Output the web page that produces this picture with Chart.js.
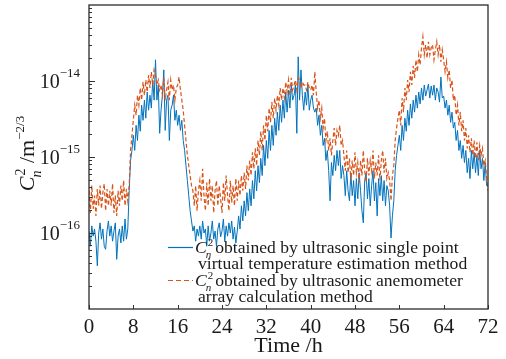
<!DOCTYPE html>
<html lang="en">
<head>
<meta charset="UTF-8">
<title>Cn2 comparison</title>
<script src="https://cdn.jsdelivr.net/npm/chart.js"></script>
<style>
  html, body { margin: 0; padding: 0; background: #ffffff; }
  #wrap { width: 506px; height: 359px; }
</style>
</head>
<body>
<div id="wrap"><canvas id="cn2Chart" width="506" height="359"></canvas></div>
<script>
// sample spacing of both series, hours
const STEP_H = 0.25;
const xTicks = [0, 8, 16, 24, 32, 40, 48, 56, 64, 72];
const yTicks = [1e-16, 1e-15, 1e-14];
const yTickExps = ['\u221216', '\u221215', '\u221214'];

// Cn2 from ultrasonic single point virtual temperature estimation (one row = 1 h)
const singlePoint = [
  1.06e-16, 6.7e-17, 1.24e-16, 9.1e-17,
  1.13e-16, 7.8e-17, 3.7e-17, 1.0e-16,
  1.36e-16, 8.3e-17, 1.13e-16, 6.7e-17,
  6.1e-17, 1.06e-16, 1.44e-16, 9.1e-17,
  1.24e-16, 7.8e-17, 1.06e-16, 1.36e-16,
  4.5e-17, 9.1e-17, 1.13e-16, 7.4e-17,
  1.24e-16, 7.8e-17, 1.53e-16, 8.3e-17,
  1.13e-16, 3.6e-16, 9.0e-16, 1.22e-15,
  1.93e-15, 1.22e-15, 2.61e-15, 1.65e-15,
  3.55e-15, 2.18e-15, 4.81e-15, 3.04e-15,
  5.6e-15, 3.24e-15, 7.15e-15, 4.13e-15,
  6.5e-15, 4.4e-15, 1.03e-14, 5.6e-15,
  1.9e-14, 5.6e-15, 8.85e-15, 2.05e-15,
  4.13e-15, 6.5e-15, 1.4e-14, 2.24e-15,
  5.6e-15, 6.5e-15, 1.65e-15, 4.13e-15,
  4.81e-15, 6.5e-15, 3.04e-15, 4.13e-15,
  2.61e-15, 3.55e-15, 2.24e-15, 3.04e-15,
  1.65e-15, 1.22e-15, 7.7e-16, 4.9e-16,
  3.1e-16, 1.96e-16, 1.44e-16, 1.06e-16,
  1.24e-16, 7.8e-17, 1.13e-16, 9.1e-17,
  1.24e-16, 8.3e-17, 1.44e-16, 1.0e-16,
  1.13e-16, 6.7e-17, 1.24e-16, 7.8e-17,
  1.0e-16, 1.44e-16, 8.3e-17, 1.06e-16,
  6.7e-17, 1.13e-16, 1.36e-16, 8.9e-17,
  1.06e-16, 1.53e-16, 7.8e-17, 1.24e-16,
  9.1e-17, 1.36e-16, 1.0e-16, 1.44e-16,
  8.3e-17, 1.2e-16, 7.4e-17, 1.06e-16,
  1.68e-16, 1.13e-16, 2.28e-16, 1.44e-16,
  2.65e-16, 1.68e-16, 3.4e-16, 1.96e-16,
  3.8e-16, 2.28e-16, 4.9e-16, 2.82e-16,
  6.6e-16, 3.6e-16, 7.7e-16, 4.6e-16,
  9.6e-16, 5.7e-16, 1.42e-15, 7.7e-16,
  1.65e-15, 9.6e-16, 2.24e-15, 1.22e-15,
  2.61e-15, 1.42e-15, 3.24e-15, 1.93e-15,
  3.89e-15, 2.24e-15, 4.81e-15, 2.86e-15,
  5.6e-15, 3.24e-15, 7.15e-15, 3.89e-15,
  7.6e-15, 4.4e-15, 8.85e-15, 5.6e-15,
  6.5e-15, 8.85e-15, 2.05e-15, 2.08e-14,
  5.6e-15, 1.4e-14, 6.5e-15, 4.13e-15,
  7.15e-15, 4.81e-15, 8.85e-15, 4.13e-15,
  5.6e-15, 6.5e-15, 4.4e-15, 3.89e-15,
  4.4e-15, 2.61e-15, 3.55e-15, 1.93e-15,
  2.61e-15, 1.42e-15, 1.76e-15, 9.0e-16,
  1.22e-15, 6.6e-16, 2.65e-16, 8.46e-16,
  5.7e-16, 1.05e-15, 6.6e-16, 1.22e-15,
  7.7e-16, 1.22e-15, 5.2e-16, 7.7e-16,
  5.7e-16, 3.1e-16, 6.6e-16, 3.6e-16,
  2.65e-16, 6.2e-16, 3.1e-16, 4.9e-16,
  2.28e-16, 5.2e-16, 2.82e-16, 6.2e-16,
  3.6e-16, 1.96e-16, 1.36e-16, 4.9e-16,
  6.2e-16, 2.82e-16, 5.2e-16, 2.28e-16,
  4.2e-16, 6.6e-16, 2.65e-16, 4.6e-16,
  1.68e-16, 5.2e-16, 3.1e-16, 5.7e-16,
  2.65e-16, 4.9e-16, 2.28e-16, 4.2e-16,
  3.6e-16, 2.28e-16, 8.6e-17, 1.68e-16,
  2.65e-16, 6.6e-16, 1.05e-15, 1.42e-15,
  1.93e-15, 1.22e-15, 2.61e-15, 1.65e-15,
  3.24e-15, 2.18e-15, 4.13e-15, 2.61e-15,
  5.0e-15, 3.24e-15, 5.6e-15, 3.89e-15,
  6.5e-15, 4.4e-15, 7.15e-15, 5.0e-15,
  8.1e-15, 5.6e-15, 8.85e-15, 6.33e-15,
  7.6e-15, 9.1e-15, 5.96e-15, 8.6e-15,
  6.5e-15, 8.85e-15, 5.6e-15, 8.1e-15,
  7.15e-15, 5.27e-15, 1.13e-14, 5.96e-15,
  6.33e-15, 4.4e-15, 5.6e-15, 3.55e-15,
  4.81e-15, 2.86e-15, 3.89e-15, 2.4e-15,
  2.86e-15, 1.65e-15, 2.24e-15, 1.22e-15,
  1.65e-15, 9.6e-16, 1.42e-15, 8.46e-16,
  1.22e-15, 6.2e-16, 9.6e-16, 5.2e-16,
  1.22e-15, 7.0e-16, 1.15e-15, 6.2e-16,
  1.05e-15, 5.7e-16, 1.22e-15, 7.0e-16,
  9.6e-16, 4.9e-16, 8.46e-16, 4.2e-16,
  4.2e-16
];

// Cn2 from ultrasonic anemometer array calculation (one row = 1 h)
const anemometerArray = [
  3.6e-16, 1.84e-16, 4.2e-16, 2.08e-16,
  3.1e-16, 1.68e-16, 3.8e-16, 2.28e-16,
  4.2e-16, 2.08e-16, 3.4e-16, 4.46e-16,
  1.96e-16, 3.8e-16, 2.28e-16, 3.6e-16,
  2.28e-16, 4.46e-16, 1.84e-16, 3.1e-16,
  1.68e-16, 3.6e-16, 2.28e-16, 4.2e-16,
  2.65e-16, 4.9e-16, 2.28e-16, 3.8e-16,
  2.65e-16, 4.2e-16, 1.22e-15, 1.93e-15,
  3.04e-15, 4.81e-15, 3.55e-15, 6.5e-15,
  4.81e-15, 8.1e-15, 5.6e-15, 9.7e-15,
  6.5e-15, 1.03e-14, 7.15e-15, 1.2e-14,
  8.1e-15, 1.32e-14, 8.85e-15, 1.4e-14,
  1.2e-14, 8.85e-15, 1.03e-14, 7.6e-15,
  8.85e-15, 6.5e-15, 1.1e-14, 5.6e-15,
  7.6e-15, 9.7e-15, 5.6e-15, 1.03e-14,
  7.6e-15, 8.85e-15, 5.6e-15, 8.1e-15,
  8.85e-15, 1.13e-14, 7.6e-15, 5.6e-15,
  4.13e-15, 2.61e-15, 1.65e-15, 1.05e-15,
  7.7e-16, 5.7e-16, 4.2e-16, 3.6e-16,
  2.28e-16, 4.2e-16, 1.96e-16, 3.6e-16,
  4.9e-16, 2.65e-16, 7.0e-16, 3.1e-16,
  1.96e-16, 4.6e-16, 2.28e-16, 5.2e-16,
  2.65e-16, 4.2e-16, 1.84e-16, 3.6e-16,
  4.9e-16, 2.28e-16, 4.2e-16, 2.82e-16,
  1.84e-16, 4.6e-16, 2.65e-16, 5.7e-16,
  3.1e-16, 1.96e-16, 4.9e-16, 2.5e-16,
  4.2e-16, 2.28e-16, 5.2e-16, 2.65e-16,
  4.9e-16, 3.1e-16, 5.7e-16, 3.6e-16,
  6.2e-16, 3.8e-16, 7.7e-16, 4.9e-16,
  9.0e-16, 5.7e-16, 1.15e-15, 7.0e-16,
  1.3e-15, 7.7e-16, 1.65e-15, 1.05e-15,
  2.18e-15, 1.22e-15, 2.61e-15, 1.65e-15,
  3.55e-15, 2.18e-15, 4.4e-15, 2.86e-15,
  5.27e-15, 3.24e-15, 5.96e-15, 4.13e-15,
  6.5e-15, 4.81e-15, 8.1e-15, 5.6e-15,
  8.1e-15, 5.96e-15, 9.7e-15, 7.15e-15,
  1.03e-14, 6.5e-15, 1.1e-14, 7.6e-15,
  8.85e-15, 1.03e-14, 7.6e-15, 1.1e-14,
  1.03e-14, 8.1e-15, 9.7e-15, 8.85e-15,
  8.85e-15, 7.6e-15, 9.7e-15, 8.1e-15,
  7.6e-15, 8.85e-15, 6.5e-15, 1.32e-14,
  7.15e-15, 4.4e-15, 5.6e-15, 3.24e-15,
  4.4e-15, 2.4e-15, 3.24e-15, 1.65e-15,
  2.18e-15, 1.22e-15, 1.76e-15, 1.05e-15,
  1.65e-15, 2.4e-15, 1.42e-15, 2.24e-15,
  1.93e-15, 2.61e-15, 1.42e-15, 1.65e-15,
  1.05e-15, 6.6e-16, 1.22e-15, 6.2e-16,
  9.6e-16, 4.9e-16, 9.0e-16, 5.7e-16,
  1.15e-15, 6.2e-16, 8.46e-16, 4.6e-16,
  9.0e-16, 5.7e-16, 1.22e-15, 6.6e-16,
  4.6e-16, 9.6e-16, 5.7e-16, 9.0e-16,
  6.6e-16, 1.22e-15, 5.2e-16, 8.46e-16,
  5.7e-16, 1.05e-15, 4.9e-16, 9.0e-16,
  1.22e-15, 6.2e-16, 9.6e-16, 5.2e-16,
  6.2e-16, 4.9e-16, 2.65e-16, 5.7e-16,
  7.7e-16, 1.65e-15, 2.4e-15, 3.24e-15,
  4.13e-15, 2.61e-15, 5.96e-15, 3.89e-15,
  8.1e-15, 5.6e-15, 1.03e-14, 7.15e-15,
  1.32e-14, 8.85e-15, 1.58e-14, 1.1e-14,
  1.9e-14, 1.32e-14, 2.21e-14, 1.63e-14,
  2.74e-14, 3.83e-14, 2.21e-14, 3.0e-14,
  2.0e-14, 3.29e-14, 2.21e-14, 2.74e-14,
  3.0e-14, 1.9e-14, 2.57e-14, 3.29e-14,
  2.21e-14, 3.0e-14, 1.79e-14, 2.57e-14,
  1.9e-14, 1.32e-14, 1.79e-14, 1.1e-14,
  1.4e-14, 8.1e-15, 1.03e-14, 5.6e-15,
  6.5e-15, 3.55e-15, 4.81e-15, 2.61e-15,
  3.89e-15, 2.18e-15, 3.04e-15, 1.65e-15,
  2.4e-15, 1.3e-15, 1.93e-15, 1.15e-15,
  1.76e-15, 1.05e-15, 1.65e-15, 9.6e-16,
  1.56e-15, 9.0e-16, 1.42e-15, 1.05e-15,
  1.3e-15, 7.7e-16, 9.0e-16, 5.2e-16,
  3.6e-16
];

const seriesText = [
  ['obtained by ultrasonic single point', 'virtual temperature estimation method'],
  ['obtained by ultrasonic anemometer', 'array calculation method']
];
const BLUE = '#0072BD';
const ORANGE = '#D95319';
const SERIF = '"Liberation Serif", "Times New Roman", serif';
const INK = '#1a1a1a';

const toPoints = vals => vals.map((v, i) => ({ x: i * STEP_H, y: v }));

function putText(ctx, txt, x, y, size, italic) {
  ctx.font = (italic ? 'italic ' : '') + size + 'px ' + SERIF;
  ctx.fillText(txt, x, y);
  return ctx.measureText(txt).width;
}

// C with stacked superscript 2 and subscript n, returns width
function drawCn2(ctx, x, y, size) {
  const w = putText(ctx, 'C', x, y, size, true);
  const small = Math.round(size * 0.62);
  const w2 = putText(ctx, '2', x + w + 1, y - size * 0.42, small, false);
  putText(ctx, 'n', x + w - 1, y + size * 0.3, small, true);
  return w + 1 + w2;
}

const decorations = {
  id: 'decorations',
  afterDraw(chart) {
    const { ctx, chartArea: a, scales } = chart;
    const xs = scales.x, ys = scales.y;
    ctx.save();
    ctx.fillStyle = INK;
    ctx.strokeStyle = '#333';

    // inner ticks
    ctx.lineWidth = 1;
    ctx.beginPath();
    xTicks.forEach(t => {
      const px = Math.round(xs.getPixelForValue(t)) + 0.5;
      ctx.moveTo(px, a.bottom);
      ctx.lineTo(px, a.bottom - 4);
    });
    for (let e = -17; e < -13; e++) {
      for (let m = 1; m < 10; m++) {
        const py = Math.round(ys.getPixelForValue(m * Math.pow(10, e))) + 0.5;
        if (py < a.top + 1 || py > a.bottom - 1) continue;
        ctx.moveTo(a.left, py);
        ctx.lineTo(a.left + (m === 1 ? 6 : 3), py);
      }
    }
    ctx.stroke();

    // frame
    ctx.lineWidth = 1.3;
    ctx.strokeStyle = '#2b2b2b';
    ctx.strokeRect(a.left, a.top, a.right - a.left, a.bottom - a.top);

    // y tick labels 10^-n
    ctx.textBaseline = 'alphabetic';
    ctx.textAlign = 'left';
    yTicks.forEach((t, i) => {
      const py = ys.getPixelForValue(t);
      ctx.font = '13px ' + SERIF;
      const sw = ctx.measureText(yTickExps[i]).width;
      ctx.font = '20px ' + SERIF;
      const bw = ctx.measureText('10').width;
      const right = a.left - 9;
      ctx.fillText('10', right - sw - bw, py + 7);
      ctx.font = '13px ' + SERIF;
      ctx.fillText(yTickExps[i], right - sw, py - 4);
    });

    // y title
    ctx.save();
    ctx.translate(34, (a.top + a.bottom) / 2 - 4);
    ctx.rotate(-Math.PI / 2);
    ctx.font = 'italic 22px ' + SERIF;
    const cw = ctx.measureText('C').width;
    ctx.font = '22px ' + SERIF;
    const mw = ctx.measureText(' /m').width;
    ctx.font = '13px ' + SERIF;
    const ew = ctx.measureText('\u22122/3').width;
    const total = cw + 9 + mw + ew;
    let x0 = -total / 2;
    x0 += drawCn2(ctx, x0, 0, 22);
    x0 += putText(ctx, ' /m', x0, 0, 22, false);
    putText(ctx, '\u22122/3', x0, -10, 13, false);
    ctx.restore();

    // legend
    const rows = [
      { color: BLUE, dash: [], y: 253 },
      { color: ORANGE, dash: [5, 3], y: 286 }
    ];
    const fs = 17.6;
    rows.forEach((r, i) => {
      ctx.save();
      ctx.strokeStyle = r.color;
      ctx.lineWidth = 1.2;
      ctx.setLineDash(r.dash);
      ctx.beginPath();
      ctx.moveTo(168, r.y - 5.5);
      ctx.lineTo(193, r.y - 5.5);
      ctx.stroke();
      ctx.restore();
      ctx.fillStyle = INK;
      const cw2 = drawCn2(ctx, 195, r.y, fs);
      putText(ctx, seriesText[i][0], 195 + cw2 + 2, r.y, fs, false);
      putText(ctx, seriesText[i][1], 198, r.y + 16, fs, false);
    });
    ctx.restore();
  }
};

new Chart(document.getElementById('cn2Chart'), {
  type: 'line',
  data: {
    datasets: [
      {
        label: 'Cn2 ' + seriesText[0].join(' '),
        data: toPoints(singlePoint),
        borderColor: BLUE,
        borderWidth: 1,
        pointRadius: 0,
        tension: 0,
        order: 2
      },
      {
        label: 'Cn2 ' + seriesText[1].join(' '),
        data: toPoints(anemometerArray),
        borderColor: ORANGE,
        borderWidth: 1.2,
        borderDash: [4, 2.5],
        pointRadius: 0,
        tension: 0,
        order: 1
      }
    ]
  },
  options: {
    responsive: false,
    animation: false,
    devicePixelRatio: 1,
    layout: { padding: { top: 5, right: 18, left: 0, bottom: 0 } },
    plugins: { legend: { display: false }, tooltip: { enabled: false } },
    scales: {
      x: {
        type: 'linear',
        min: 0,
        max: 72,
        afterBuildTicks: s => { s.ticks = xTicks.map(v => ({ value: v })); },
        afterFit: s => { s.height = 50; },
        grid: { display: false, drawTicks: false },
        border: { display: false },
        ticks: { color: INK, font: { family: SERIF, size: 21 }, padding: 6, maxRotation: 0 },
        title: { display: true, text: 'Time /h', color: INK, font: { family: SERIF, size: 22 }, padding: { top: 0, bottom: 0 } }
      },
      y: {
        type: 'logarithmic',
        min: 1e-17,
        max: 1e-13,
        afterFit: s => { s.width = 89; },
        grid: { display: false, drawTicks: false },
        border: { display: false },
        ticks: { display: false }
      }
    }
  },
  plugins: [decorations]
});
</script>
</body>
</html>
